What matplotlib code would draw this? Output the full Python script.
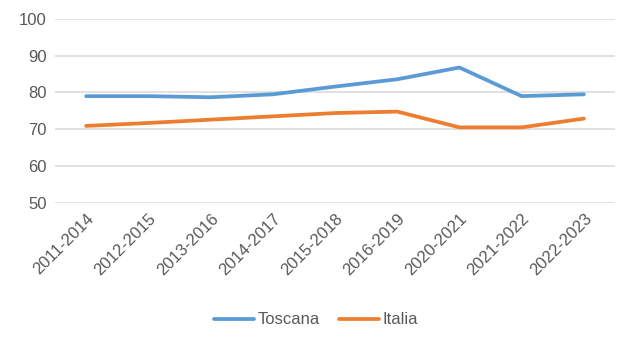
import matplotlib
matplotlib.use("Agg")
import matplotlib.pyplot as plt

categories = ["2011-2014", "2012-2015", "2013-2016", "2014-2017", "2015-2018",
              "2016-2019", "2020-2021", "2021-2022", "2022-2023"]
toscana = [79.0, 79.0, 78.7, 79.5, 81.6, 83.6, 86.8, 79.0, 79.5]
italia = [70.9, 71.7, 72.6, 73.5, 74.4, 74.8, 70.5, 70.5, 72.9]
yticks = [50, 60, 70, 80, 90, 100]

plt.rcParams['font.family'] = ['Liberation Sans Narrow', 'Liberation Sans', 'DejaVu Sans']

fig = plt.figure(figsize=(6.32, 3.46), dpi=100)
ax = fig.add_axes([55/632, 1 - 202.7/346, (615-55)/632, (202.7-19)/346])

x = list(range(len(categories)))
ax.plot(x, toscana, color="#5B9BD5", lw=2.7, solid_capstyle="round", label="Toscana", zorder=3)
ax.plot(x, italia, color="#ED7D31", lw=2.7, solid_capstyle="round", label="Italia", zorder=3)

ax.set_xlim(-0.5, len(categories) - 0.5)
ax.set_ylim(50, 100)
ax.set_yticks(yticks)
ax.set_xticks(x)
ax.set_xticklabels(categories, rotation=45, ha="right", rotation_mode="anchor")
ax.grid(axis="y", color="#D9D9D9", lw=1.1)
ax.set_axisbelow(True)
for s in ax.spines.values():
    s.set_visible(False)
ax.tick_params(axis="both", length=0, colors="#595959", labelsize=12)
ax.tick_params(axis="y", pad=6)
ax.tick_params(axis="x", pad=6)

leg = fig.legend(loc="center", bbox_to_anchor=(0.5, 1 - 320/346), ncol=2, frameon=False,
                 fontsize=12, handlelength=2.4, columnspacing=1.2, handletextpad=0.2)
for t in leg.get_texts():
    t.set_color("#595959")

fig.savefig("out.png", dpi=100)
